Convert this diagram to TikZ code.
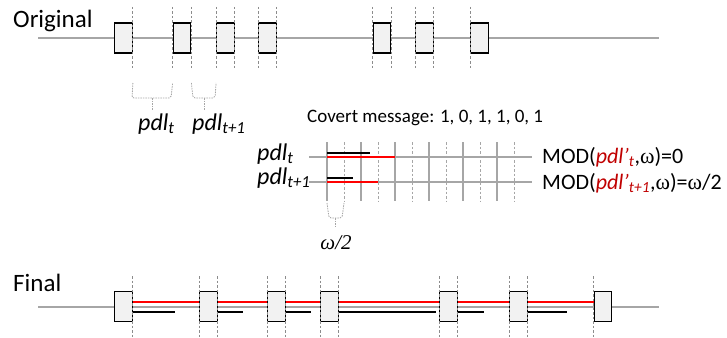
\documentclass[tikz,border=0pt]{standalone}
\usepackage{fontspec}
\setmainfont{Carlito}
\newfontfamily\grk{Liberation Serif}
\usetikzlibrary{positioning}
\definecolor{linegray}{HTML}{A6A6A6}
\definecolor{dashgray}{HTML}{8C8C8C}
\definecolor{boxfill}{HTML}{F2F2F2}
\definecolor{modred}{HTML}{C00000}

\begin{document}
\begin{tikzpicture}[x=1pt,y=-1pt,
  pkt/.style={draw=black,line width=1.3pt,fill=boxfill,minimum width=17.5pt,minimum height=30pt,inner sep=0pt},
  axis/.style={draw=linegray,line width=1.5pt},
  edge/.style={draw=dashgray,line width=0.9pt,dash pattern=on 2.5pt off 2pt},
  brace/.style={draw=linegray,line width=0.8pt,dash pattern=on 1.5pt off 1pt,rounded corners=2pt},
  redl/.style={draw=red,line width=2.2pt},
  blkl/.style={draw=black,line width=2.5pt},
  big/.style={font=\fontsize{25}{30}\selectfont,inner sep=0pt,anchor=base west},
  lbl/.style={font=\fontsize{24}{28}\selectfont\itshape,inner sep=0pt,anchor=base west},
  txt/.style={font=\fontsize{19}{23}\selectfont,inner sep=0pt,anchor=base west}]

\useasboundingbox (0,0) rectangle (727,337);

% original packet stream
\node[big] (orig) at (13,28) {Original};
\coordinate (oa) at (38,38);
\coordinate (ob) at (659,38);
\draw[axis] (oa) -- (ob);
\node[pkt] (o1) at (123.5,38) {};
\node[pkt] (o2) at (182,38) {};
\node[pkt] (o3) at (225.5,38) {};
\node[pkt] (o4) at (267.5,38) {};
\node[pkt] (o5) at (382,38) {};
\node[pkt] (o6) at (424.5,38) {};
\node[pkt] (o7) at (479.5,38) {};
\foreach \b in {o1.east,o2.west,o2.east,o3.west,o3.east,o4.west,o4.east,
                o5.west,o5.east,o6.west,o6.east,o7.west}
  \draw[edge] (\b |- 0,7) -- (\b |- 0,68);

% gaps between packets
\draw[brace] (o1.east |- 0,83) -- (132,98) -- (171,98) -- (o2.west |- 0,83);
\draw[brace] (152,98) -- (152,110);
\draw[brace] (o2.east |- 0,83) -- (193,98) -- (215,98) -- (o3.west |- 0,83);
\draw[brace] (204,98) -- (204,110);
\node[lbl] (pt) at (138,130) {pdl\textsubscript{t}};
\node[lbl] (pt1) at (192,130) {pdl\textsubscript{t+1}};

% encoding grid
\node[txt] (msg) at (307,122) {Covert message: 1, 0, 1, 1, 0, 1};
\draw[axis] (309,157) -- (532,157) (309,182) -- (532,182);
\foreach \x in {327,361,395,429,463,497}
  \draw[axis] (\x,142) -- (\x,201);
\foreach \x in {344,378,412,446,480,514}
  \draw[edge,draw=linegray] (\x,142) -- (\x,201);
\draw[redl] (327,157) -- (395,157) (327,182) -- (378,182);
\draw[blkl] (327,153) -- (370,153) (327,178) -- (353,178);
\node[lbl] (gt) at (257,160) {pdl\textsubscript{t}};
\node[lbl] (gt1) at (257,184) {pdl\textsubscript{t+1}};
\node[txt,font=\fontsize{22}{26}\selectfont] (m1) at (542,163)
  {MOD(\textcolor{modred}{\itshape pdl’\textsubscript{t}},{\grk ω})=0};
\node[txt,font=\fontsize{22}{26}\selectfont] (m2) at (542,189)
  {MOD(\textcolor{modred}{\itshape pdl’\textsubscript{t+1}},{\grk ω})={\grk ω}/2};
\draw[brace] (327,203) -- (329,218) -- (342,218) -- (344,203);
\draw[brace] (335.5,218) -- (335.5,228);
\node[font=\fontsize{21}{24}\selectfont\grk\itshape,inner sep=0pt] (half) at (336,243) {ω/2};

% final packet stream
\node[big] (fin) at (13,291) {Final};
\coordinate (fa) at (38,307);
\coordinate (fb) at (659,307);
\draw[axis] (fa) -- (fb);
\node[pkt] (f1) at (123.5,306.5) {};
\node[pkt] (f2) at (208.5,306.5) {};
\node[pkt] (f3) at (276.5,306.5) {};
\node[pkt] (f4) at (329.5,306.5) {};
\node[pkt] (f5) at (448.5,306.5) {};
\node[pkt] (f6) at (518.5,306.5) {};
\node[pkt] (f7) at (603,306.5) {};
\draw[redl] (f1.east |- 0,302) -- (f2.west |- 0,302)
            (f2.east |- 0,302) -- (f3.west |- 0,302)
            (f3.east |- 0,302) -- (f4.west |- 0,302)
            (f4.east |- 0,302) -- (f5.west |- 0,302)
            (f5.east |- 0,302) -- (f6.west |- 0,302)
            (f6.east |- 0,302) -- (f7.west |- 0,302);
\coordinate (e1) at (175,312);
\coordinate (e2) at (243,312);
\coordinate (e3) at (311,312);
\coordinate (e4) at (436,312);
\coordinate (e5) at (484,312);
\coordinate (e6) at (567,312);
\draw[blkl] (f1.east |- e1) -- (e1) (f2.east |- e2) -- (e2)
            (f3.east |- e3) -- (e3) (f4.east |- e4) -- (e4)
            (f5.east |- e5) -- (e5) (f6.east |- e6) -- (e6);
\foreach \b in {f1.east,f2.west,f2.east,f3.west,f3.east,f4.west,f4.east,
                f5.west,f5.east,f6.west,f6.east,f7.west}
  \draw[edge] (\b |- 0,276) -- (\b |- 0,337);
\end{tikzpicture}
\end{document}
